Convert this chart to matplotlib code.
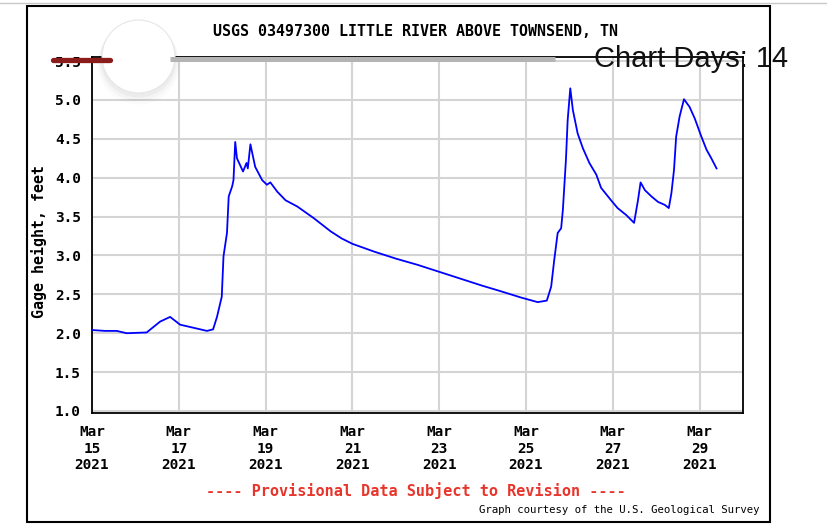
import pandas as pd
import matplotlib
matplotlib.use('Agg')
import matplotlib.pyplot as plt
import matplotlib.dates as mdates
from matplotlib.patches import Rectangle, Circle

# gage height readings, days after 2021-03-15 00:00
days = [0.0, 0.03, 0.3, 0.57, 0.8, 1.26, 1.57, 1.8, 2.03, 2.34, 2.65, 2.79,
        2.88, 2.99, 3.03, 3.11, 3.15, 3.23, 3.26, 3.30, 3.34, 3.48, 3.56, 3.59,
        3.65, 3.76, 3.92, 4.03, 4.11, 4.27, 4.46, 4.73, 5.11, 5.50, 5.75, 6.0,
        6.5, 7.0, 7.5, 8.0, 8.5, 9.0, 9.42, 9.88, 10.27, 10.48, 10.58, 10.65,
        10.73, 10.81, 10.85, 10.92, 10.96, 11.02, 11.08, 11.19, 11.31, 11.46,
        11.62, 11.73, 11.96, 12.11, 12.31, 12.49, 12.58, 12.64, 12.74, 12.89,
        13.04, 13.20, 13.29, 13.35, 13.41, 13.46, 13.54, 13.64, 13.77, 13.89,
        14.04, 14.16, 14.27, 14.39]
gage_ft = [2.04, 2.04, 2.03, 2.03, 2.00, 2.01, 2.15, 2.21, 2.11, 2.07, 2.03, 2.05,
           2.21, 2.47, 2.99, 3.29, 3.76, 3.89, 3.97, 4.46, 4.25, 4.08, 4.19, 4.12,
           4.43, 4.14, 3.97, 3.91, 3.94, 3.82, 3.71, 3.63, 3.48, 3.31, 3.22, 3.15,
           3.05, 2.96, 2.88, 2.79, 2.70, 2.61, 2.54, 2.46, 2.40, 2.42, 2.60, 2.94,
           3.29, 3.35, 3.59, 4.23, 4.74, 5.15, 4.87, 4.57, 4.38, 4.19,
           4.04, 3.87, 3.71, 3.61, 3.52, 3.42, 3.71, 3.94, 3.84, 3.76,
           3.69, 3.65, 3.61, 3.80, 4.10, 4.53, 4.79, 5.01, 4.91, 4.76,
           4.53, 4.36, 4.25, 4.12]

y_ticks = [1.0, 1.5, 2.0, 2.5, 3.0, 3.5, 4.0, 4.5, 5.0, 5.5]
title = 'USGS 03497300 LITTLE RIVER ABOVE TOWNSEND, TN'
chart_days = 14

W, H = 828, 531
MONO = 'DejaVu Sans Mono'

start = pd.Timestamp('2021-03-15')
times = start + pd.to_timedelta(days, unit='D')

fig = plt.figure(figsize=(W / 100, H / 100), dpi=100)
fig.patch.set_facecolor('white')

ax = fig.add_axes([92 / W, 1 - 413 / H, 651 / W, 356 / H])
ax.plot(times, gage_ft, color='#0000ff', lw=1.3, zorder=3)

ax.set_xlim(start, start + pd.Timedelta(days=15))
ax.set_ylim(0.974, 5.553)
ax.set_yticks(y_ticks)
ax.yaxis.set_major_formatter(plt.FormatStrFormatter('%.1f'))
ax.xaxis.set_major_locator(mdates.DayLocator(bymonthday=range(15, 31, 2)))
ax.xaxis.set_major_formatter(mdates.DateFormatter('%b\n%d\n%Y'))
ax.grid(True, color='#d4d4d4', lw=1.5)
ax.set_axisbelow(True)
ax.tick_params(length=0, labelsize=10.4)
ax.tick_params(axis='y', pad=8)
ax.tick_params(axis='x', pad=9)
for lab in ax.get_xticklabels() + ax.get_yticklabels():
    lab.set_family(MONO)
    lab.set_weight('bold')
for lab in ax.get_xticklabels():
    lab.set_linespacing(1.2)
for sp in ax.spines.values():
    sp.set_color('black')
    sp.set_linewidth(1.3)

fig.text(416 / W, 1 - 32 / H, title, ha='center', va='center',
         family=MONO, weight='bold', fontsize=10.8)
fig.text(39.5 / W, 1 - 241 / H, 'Gage height, feet', rotation=90, ha='center',
         va='center', family=MONO, weight='bold', fontsize=10.8)
fig.text(416 / W, 1 - 491 / H, '---- Provisional Data Subject to Revision ----',
         ha='center', va='center', family=MONO, weight='bold', color='#e8352b',
         fontsize=10.9)
fig.text(760 / W, 1 - 510 / H, 'Graph courtesy of the U.S. Geological Survey',
         ha='right', va='center', family=MONO, fontsize=7.7)

# overlay in pixel coordinates: page frame and the days slider
ov = fig.add_axes([0, 0, 1, 1], zorder=10)
ov.set_xlim(0, W)
ov.set_ylim(H, 0)
ov.axis('off')
ov.patch.set_alpha(0)

ov.plot([0, W], [3, 3], color='#c8c8c8', lw=1)
ov.add_patch(Rectangle((27, 6), 743, 516, fill=False, ec='black', lw=1.5))

ov.plot([53, 110], [59.5, 59.5], color='#8b1c1c', lw=3.8, solid_capstyle='round')
ov.plot([170, 555], [58.5, 58.5], color='#b4b4b4', lw=3.6, solid_capstyle='butt')

for r, a, dy in [(41, 0.015, 7), (39.5, 0.025, 5), (38, 0.035, 3)]:
    ov.add_patch(Circle((138.5, 56.5 + dy), r, color='black', alpha=a, lw=0))
ov.add_patch(Circle((138.5, 56.5), 36.5, fc='white', ec='#e6e6e6', lw=0.8))

ov.text(594, 67, f'Chart Days: {chart_days}', ha='left', va='baseline',
        family='Liberation Sans', fontsize=21, color='#111111')

fig.savefig('out.png', dpi=100)
